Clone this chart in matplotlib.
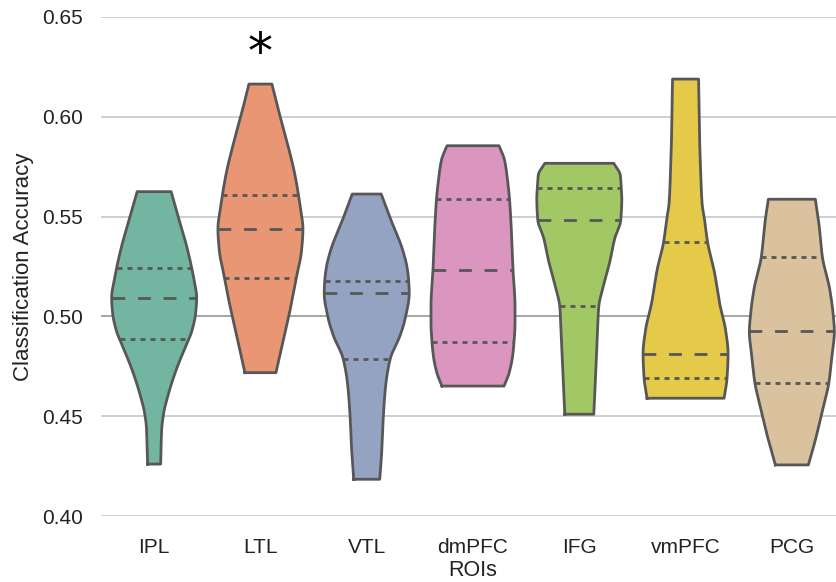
import colorsys

import matplotlib
matplotlib.use("Agg")
import matplotlib.colors as mcolors
import matplotlib.pyplot as plt
import numpy as np

rois = ["IPL", "LTL", "VTL", "dmPFC", "IFG", "vmPFC", "PCG"]
base_colors = ["#66c2a5", "#fc8d62", "#8da0cb", "#e78ac3", "#a6d854", "#ffd92f", "#e5c494"]

# density profile of each ROI: accuracy levels (bottom -> top) and KDE width there
ipl_acc = [0.426, 0.4431, 0.4515, 0.4598, 0.4681, 0.4765, 0.4849, 0.4932, 0.5016,
           0.5094, 0.518, 0.5244, 0.5352, 0.5517, 0.5625]
ipl_dens = [13, 15, 19, 27, 37, 49, 63, 76, 83, 85, 80, 75, 65, 46, 34]

ltl_acc = [0.4718, 0.4874, 0.5041, 0.5208, 0.5325, 0.5438, 0.5542, 0.5709, 0.5876,
           0.6043, 0.6164]
ltl_dens = [31, 45, 60, 73, 82, 85, 80, 69, 53, 35, 23]

vtl_acc = [0.4184, 0.4322, 0.4489, 0.4656, 0.4787, 0.4906, 0.4990, 0.5117, 0.5177,
           0.5241, 0.5324, 0.5492, 0.5613]
vtl_dens = [26, 30, 33, 38, 47, 67, 77, 85, 84, 81, 73, 47, 29]

dmpfc_acc = [0.4651, 0.4715, 0.4798, 0.4870, 0.4965, 0.5051, 0.5233, 0.5467, 0.5588,
             0.5684, 0.5784, 0.5855]
dmpfc_dens = [62, 72, 79, 82, 84, 84, 80, 76, 73, 69, 63, 52]

ifg_acc = [0.4510, 0.4723, 0.4899, 0.5051, 0.5141, 0.5274, 0.5391, 0.5483, 0.5592,
           0.5642, 0.5708, 0.5767]
ifg_dens = [29, 33, 36, 39, 47, 61, 71, 83, 85, 84, 82, 69]

vmpfc_acc = [0.4590, 0.4693, 0.4814, 0.4932, 0.5066, 0.5232, 0.5371, 0.5483, 0.5566,
             0.5733, 0.5900, 0.6068, 0.6189]
vmpfc_dens = [77, 83, 85, 80, 68, 57, 44, 38, 33, 30, 28, 27, 26]

pcg_acc = [0.4256, 0.4381, 0.4548, 0.4668, 0.4798, 0.4925, 0.4999, 0.5132, 0.5299,
           0.5467, 0.5587]
pcg_dens = [33, 47, 63, 74, 80, 85, 83, 76, 61, 54, 47]

profiles_acc = [ipl_acc, ltl_acc, vtl_acc, dmpfc_acc, ifg_acc, vmpfc_acc, pcg_acc]
profiles_dens = [ipl_dens, ltl_dens, vtl_dens, dmpfc_dens, ifg_dens, vmpfc_dens, pcg_dens]

# quartiles of the classification accuracy per ROI
q1 = [0.4885, 0.5193, 0.4787, 0.4870, 0.5051, 0.4693, 0.4668]
median = [0.5094, 0.5438, 0.5117, 0.5233, 0.5483, 0.4814, 0.4925]
q3 = [0.5244, 0.5606, 0.5177, 0.5588, 0.5642, 0.5371, 0.5299]

chance = 0.5
significant = ["LTL"]

yticks = [0.40, 0.45, 0.50, 0.55, 0.60, 0.65]


def desaturate(color, prop=0.75):
    h, l, s = colorsys.rgb_to_hls(*mcolors.to_rgb(color))
    return colorsys.hls_to_rgb(h, l, s * prop)


def pchip(x, y, xnew):
    """Shape-preserving cubic through the profile points (Fritsch-Carlson)."""
    x = np.asarray(x, float)
    y = np.asarray(y, float)
    h = np.diff(x)
    delta = np.diff(y) / h
    d = np.zeros_like(y)
    for k in range(1, len(x) - 1):
        if delta[k - 1] * delta[k] > 0:
            w1 = 2 * h[k] + h[k - 1]
            w2 = h[k] + 2 * h[k - 1]
            d[k] = (w1 + w2) / (w1 / delta[k - 1] + w2 / delta[k])
    d[0] = delta[0]
    d[-1] = delta[-1]
    idx = np.clip(np.searchsorted(x, xnew) - 1, 0, len(h) - 1)
    t = (xnew - x[idx]) / h[idx]
    h00 = 2 * t**3 - 3 * t**2 + 1
    h10 = t**3 - 2 * t**2 + t
    h01 = -2 * t**3 + 3 * t**2
    h11 = t**3 - t**2
    return (h00 * y[idx] + h10 * h[idx] * d[idx]
            + h01 * y[idx + 1] + h11 * h[idx] * d[idx + 1])


plt.rcParams["font.family"] = ["Liberation Sans", "DejaVu Sans"]
edge = "#575757"
text_color = "#222222"
lw = 2.0

fig = plt.figure(figsize=(8.36, 5.82), dpi=100)
ax = fig.add_axes([101 / 836, 66 / 582, 744 / 836, 499 / 582])

dmax = max(max(d) for d in profiles_dens)
for i, (acc, dens) in enumerate(zip(profiles_acc, profiles_dens)):
    grid = np.linspace(acc[0], acc[-1], 300)
    half = 0.4 * pchip(acc, dens, grid) / dmax
    ax.fill_betweenx(grid, i - half, i + half, facecolor=desaturate(base_colors[i]),
                     edgecolor="none", zorder=3)
    xs = np.concatenate([i - half, (i + half)[::-1], [i - half[0]]])
    ys = np.concatenate([grid, grid[::-1], [grid[0]]])
    ax.plot(xs, ys, color=edge, lw=lw, zorder=4, solid_joinstyle="round")
    for val, style in [(q1[i], (0, (1.8, 1.8))), (median[i], (0, (4.6, 4.6))),
                       (q3[i], (0, (1.8, 1.8)))]:
        w = 0.4 * pchip(acc, dens, np.array([val]))[0] / dmax
        ax.plot([i - w, i + w], [val, val], color=edge, lw=lw, ls=style,
                dash_capstyle="butt", zorder=5)
    if rois[i] in significant:
        ax.text(i, max(acc) + 0.003, "*", ha="center", va="bottom",
                fontsize=36, family="DejaVu Sans", color="black", zorder=6)

ax.axhline(chance, color="#a0a0a0", lw=1.2, zorder=2)

ax.set_xlim(-0.5, 6.5)
ax.set_ylim(0.40, 0.65)
ax.set_xticks(range(len(rois)))
ax.set_xticklabels(rois)
ax.set_yticks(yticks)
ax.set_yticklabels([f"{t:.2f}" for t in yticks])
ax.grid(axis="y", color="#cccccc", lw=1.3, zorder=0)
ax.set_axisbelow(True)
for sp in ax.spines.values():
    sp.set_visible(False)
ax.tick_params(length=0, labelsize=15, colors=text_color)
ax.tick_params(axis="x", pad=16)
ax.tick_params(axis="y", pad=13)
ax.set_xlabel("ROIs", fontsize=15.5, color=text_color)
ax.set_ylabel("Classification Accuracy", fontsize=16, color=text_color)
ax.xaxis.set_label_coords(0.5, -0.088)
ax.yaxis.set_label_coords(-0.090, 0.5)

fig.savefig("out.png", dpi=100)
